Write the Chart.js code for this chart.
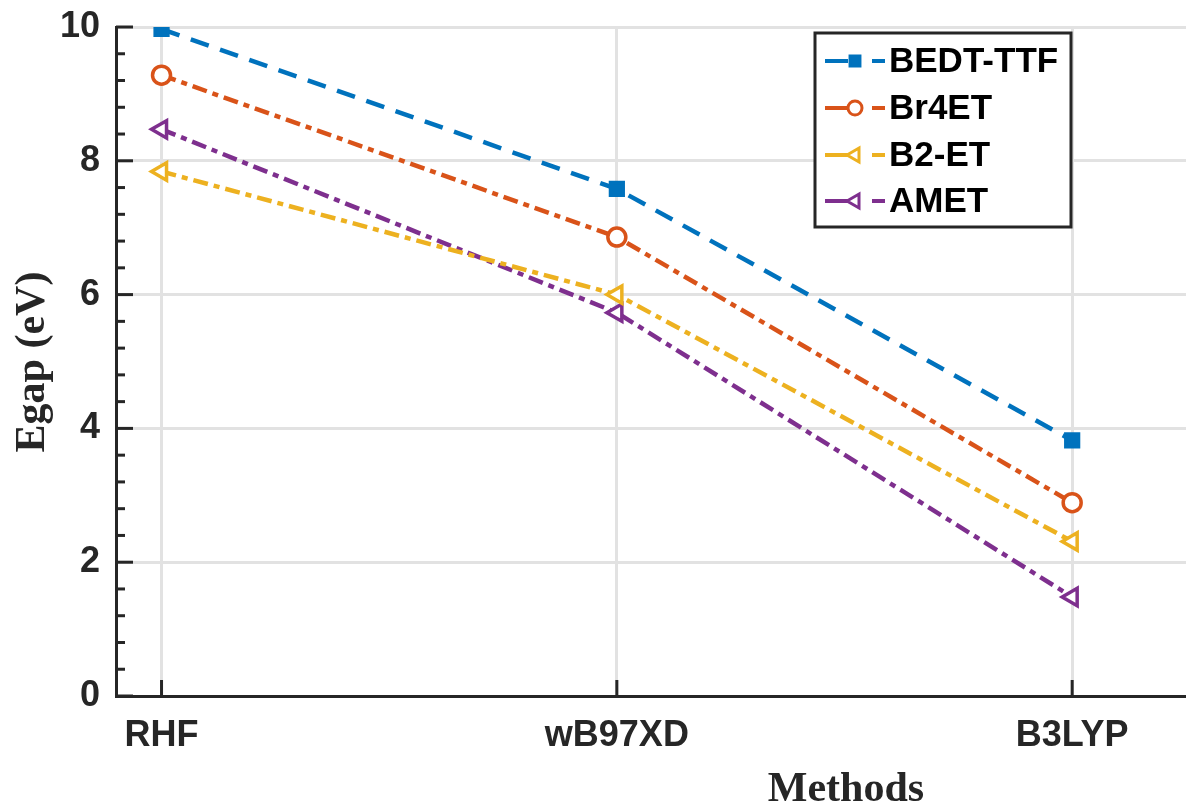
<!DOCTYPE html>
<html>
<head>
<meta charset="utf-8">
<script src="https://cdn.jsdelivr.net/npm/chart.js@4/dist/chart.umd.min.js"></script>
<style>
  body { margin: 0; background: #fff; }
  #wrap { width: 1186px; height: 803px; }
</style>
</head>
<body>
<div id="wrap"><canvas id="egapChart" width="1186" height="803"></canvas></div>
<script>
// Egap per method for each molecule
const methods = ['RHF', 'wB97XD', 'B3LYP'];
const bedtTtf = [9.97, 7.58, 3.82];
const br4et = [9.28, 6.86, 2.89];
const b2et = [7.84, 6.00, 2.31];
const amet = [8.47, 5.73, 1.48];
const yTicks = [0, 2, 4, 6, 8, 10];

const ink = '#262626';
const gridGray = '#e2e2e2';
const toPoints = arr => arr.map((v, i) => ({ x: i + 1, y: v }));

const datasets = [
    {
        label: 'BEDT-TTF',
        data: toPoints(bedtTtf),
        borderColor: '#0072BD',
        borderDash: [19, 12],
        pointStyle: 'rect',
        pointRadius: 9,
        pointBackgroundColor: '#0072BD'
    },
    {
        label: 'Br4ET',
        data: toPoints(br4et),
        borderColor: '#D95319',
        borderDash: [15, 6, 6, 6],
        pointStyle: 'circle',
        pointRadius: 9,
        pointBackgroundColor: '#fff'
    },
    {
        label: 'B2-ET',
        data: toPoints(b2et),
        borderColor: '#EDB120',
        borderDash: [15, 6, 6, 6],
        pointStyle: 'triangle',
        pointRotation: -90,
        pointRadius: 10,
        pointBackgroundColor: '#fff'
    },
    {
        label: 'AMET',
        data: toPoints(amet),
        borderColor: '#7E2F8E',
        borderDash: [15, 6, 6, 6],
        pointStyle: 'triangle',
        pointRotation: -90,
        pointRadius: 10,
        pointBackgroundColor: '#fff'
    }
];
datasets.forEach(d => {
    d.borderWidth = 4.5;
    d.pointBorderColor = d.borderColor;
    d.pointBorderWidth = 3.5;
    d.tension = 0;
    d.fill = false;
});

// inward ticks, axis titles and the boxed legend
const extras = {
    id: 'extras',
    afterDraw(chart) {
        const ctx = chart.ctx;
        const xs = chart.scales.x, ys = chart.scales.y;
        const area = chart.chartArea;
        ctx.save();
        ctx.strokeStyle = ink;
        ctx.lineWidth = 3;
        for (let k = 0; k <= 25; k++) {
            const py = ys.getPixelForValue(k * 0.4);
            const len = k % 5 === 0 ? 17 : 9;
            ctx.beginPath();
            ctx.moveTo(area.left, py);
            ctx.lineTo(area.left + len, py);
            ctx.stroke();
        }
        methods.forEach((m, i) => {
            const px = xs.getPixelForValue(i + 1);
            ctx.beginPath();
            ctx.moveTo(px, area.bottom);
            ctx.lineTo(px, area.bottom - 16);
            ctx.stroke();
        });

        ctx.fillStyle = ink;
        ctx.font = 'bold 42px "Liberation Serif", "Times New Roman", serif';
        ctx.textAlign = 'center';
        ctx.textBaseline = 'alphabetic';
        ctx.fillText('Methods', 846, 801);
        ctx.save();
        ctx.translate(33, 362);
        ctx.rotate(-Math.PI / 2);
        ctx.textBaseline = 'middle';
        ctx.fillText('Egap (eV)', 0, 0);
        ctx.restore();

        // legend
        const lx = 815, ly = 33, lw = 256, lh = 194;
        ctx.fillStyle = '#fff';
        ctx.fillRect(lx, ly, lw, lh);
        ctx.strokeStyle = ink;
        ctx.lineWidth = 3;
        ctx.strokeRect(lx, ly, lw, lh);
        const rows = [61, 108, 155, 201];
        chart.data.datasets.forEach((d, i) => {
            const ry = rows[i];
            ctx.strokeStyle = d.borderColor;
            ctx.lineWidth = 4;
            ctx.beginPath();
            ctx.moveTo(825, ry);
            ctx.lineTo(848, ry);
            ctx.moveTo(872, ry);
            ctx.lineTo(885, ry);
            ctx.stroke();
            ctx.fillStyle = d.pointBackgroundColor;
            ctx.lineWidth = 3;
            Chart.helpers.drawPoint(ctx, {
                pointStyle: d.pointStyle,
                rotation: d.pointRotation || 0,
                radius: d.pointRadius - 2,
                borderWidth: 3
            }, 855, ry);
            ctx.fillStyle = '#000';
            ctx.font = 'bold 35px "Liberation Sans", Arial, sans-serif';
            ctx.textAlign = 'left';
            ctx.textBaseline = 'middle';
            ctx.fillText(d.label, 889, ry + 1);
        });
        ctx.restore();
    }
};

new Chart(document.getElementById('egapChart'), {
    type: 'line',
    data: { datasets: datasets },
    options: {
        responsive: false,
        animation: false,
        layout: { autoPadding: false, padding: { top: 27, right: 0, left: 0, bottom: 0 } },
        plugins: {
            legend: { display: false },
            tooltip: { enabled: false }
        },
        scales: {
            x: {
                type: 'linear',
                min: 0.9,
                max: 3.25,
                afterBuildTicks: s => { s.ticks = methods.map((m, i) => ({ value: i + 1 })); },
                afterFit: s => {
                    s.height = 107;
                    s.paddingLeft = 0;
                    s.paddingRight = 0;
                },
                ticks: {
                    callback: v => methods[v - 1] || '',
                    color: ink,
                    padding: 18,
                    maxRotation: 0,
                    font: { family: '"Liberation Sans", Arial, sans-serif', size: 36, weight: 'bold' }
                },
                grid: { color: gridGray, lineWidth: 3, drawTicks: false },
                border: { display: true, color: ink, width: 3 }
            },
            y: {
                min: 0,
                max: 10,
                afterBuildTicks: s => { s.ticks = yTicks.map(v => ({ value: v })); },
                afterFit: s => {
                    s.width = 116;
                    s.paddingTop = 0;
                    s.paddingBottom = 0;
                },
                ticks: {
                    color: ink,
                    padding: 16,
                    font: { family: '"Liberation Sans", Arial, sans-serif', size: 36, weight: 'bold' }
                },
                grid: {
                    color: c => (c.tick && c.tick.value === 0 ? 'rgba(0,0,0,0)' : gridGray),
                    lineWidth: 3,
                    drawTicks: false
                },
                border: { display: true, color: ink, width: 3 }
            }
        }
    },
    plugins: [extras]
});
</script>
</body>
</html>
